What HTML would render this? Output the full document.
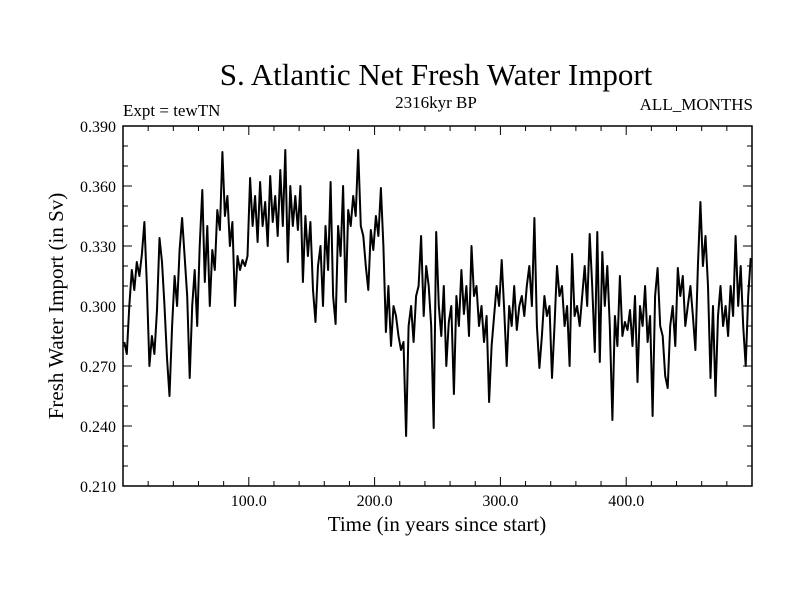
<!DOCTYPE html>
<html><head><meta charset="utf-8"><style>
body{margin:0;background:#fff}
svg text{font-family:"Liberation Serif",serif;fill:#000}
</style></head><body>
<svg id="chart" width="800" height="600" xmlns="http://www.w3.org/2000/svg">
<rect width="800" height="600" fill="#fff"/>
<text x="436" y="85" font-size="31" text-anchor="middle">S. Atlantic Net Fresh Water Import</text>
<text x="123" y="116" font-size="17">Expt = tewTN</text>
<text x="436" y="108" font-size="17" text-anchor="middle">2316kyr BP</text>
<text x="753" y="110" font-size="17" text-anchor="end">ALL_MONTHS</text>
<text x="437" y="531" font-size="21" text-anchor="middle">Time (in years since start)</text>
<text x="0" y="0" font-size="21" text-anchor="middle" transform="translate(63,306) rotate(-90)">Fresh Water Import (in Sv)</text>
<g id="axes"></g>
<path id="series" fill="none" stroke="#000" stroke-width="2" stroke-linejoin="round"/>
<rect x="123" y="126" width="629" height="360" fill="none" stroke="#000" stroke-width="1.5"/>
</svg>
<script>
const years = [];
for (let i = 0; i < 250; i++) years.push(1 + 2 * i);
const values = [
0.282,0.276,0.300,0.318,0.308,0.322,0.315,0.326,0.342,0.310,
0.270,0.285,0.276,0.298,0.334,0.322,0.300,0.274,0.255,0.290,
0.315,0.300,0.328,0.344,0.325,0.305,0.264,0.300,0.318,0.290,
0.330,0.358,0.312,0.340,0.300,0.328,0.318,0.348,0.338,0.377,
0.345,0.355,0.330,0.342,0.300,0.325,0.318,0.323,0.320,0.325,
0.364,0.340,0.355,0.332,0.362,0.340,0.352,0.330,0.365,0.342,
0.355,0.335,0.368,0.340,0.378,0.322,0.360,0.340,0.355,0.338,
0.360,0.312,0.345,0.325,0.342,0.308,0.292,0.320,0.330,0.300,
0.340,0.318,0.362,0.305,0.291,0.340,0.325,0.360,0.302,0.348,
0.340,0.355,0.345,0.378,0.340,0.335,0.320,0.308,0.338,0.328,
0.345,0.335,0.359,0.330,0.287,0.310,0.280,0.300,0.295,0.285,
0.278,0.282,0.235,0.290,0.300,0.282,0.305,0.310,0.335,0.295,
0.320,0.310,0.290,0.239,0.337,0.300,0.285,0.310,0.270,0.292,
0.300,0.256,0.305,0.290,0.318,0.296,0.310,0.285,0.330,0.305,
0.310,0.290,0.300,0.282,0.295,0.252,0.280,0.295,0.310,0.300,
0.323,0.298,0.270,0.300,0.290,0.310,0.288,0.300,0.305,0.295,
0.310,0.320,0.300,0.344,0.290,0.269,0.285,0.305,0.295,0.300,
0.264,0.290,0.320,0.305,0.310,0.290,0.300,0.270,0.326,0.295,
0.300,0.290,0.305,0.320,0.300,0.336,0.310,0.277,0.337,0.272,
0.327,0.300,0.320,0.290,0.243,0.295,0.280,0.315,0.285,0.292,
0.288,0.298,0.280,0.305,0.262,0.300,0.290,0.310,0.282,0.295,
0.245,0.305,0.319,0.290,0.285,0.265,0.259,0.290,0.300,0.280,
0.319,0.305,0.315,0.290,0.300,0.310,0.295,0.278,0.320,0.352,
0.320,0.335,0.310,0.264,0.300,0.255,0.295,0.310,0.290,0.300,
0.285,0.310,0.295,0.335,0.300,0.320,0.290,0.270,0.305,0.324
];
const xTickValues = [100, 200, 300, 400];
const xTickLabels = ["100.0", "200.0", "300.0", "400.0"];
const yTickValues = [0.21, 0.24, 0.27, 0.30, 0.33, 0.36, 0.39];
const yTickLabels = ["0.210", "0.240", "0.270", "0.300", "0.330", "0.360", "0.390"];

const L = 123, R = 752, T = 126, B = 486;
const X0 = 0, X1 = 500, Y0 = 0.21, Y1 = 0.39;
function xs(v){ return L + (v - X0) / (X1 - X0) * (R - L); }
function ys(v){ return B - (v - Y0) / (Y1 - Y0) * (B - T); }

const NS = "http://www.w3.org/2000/svg";
const axes = document.getElementById("axes");
function line(x1,y1,x2,y2,name){
  const l = document.createElementNS(NS, "line");
  l.setAttribute("x1", x1); l.setAttribute("y1", y1);
  l.setAttribute("x2", x2); l.setAttribute("y2", y2);
  l.setAttribute("stroke", "#000"); l.setAttribute("stroke-width", "1");
  
  
  axes.appendChild(l);
}
function text(x,y,s,anchor,name){
  const t = document.createElementNS(NS, "text");
  t.setAttribute("x", x); t.setAttribute("y", y);
  t.setAttribute("font-size", "16");
  t.setAttribute("text-anchor", anchor);
  t.textContent = s;
  
  
  axes.appendChild(t);
}
// minor ticks
for (let v = 20; v < 500; v += 20) {
  const x = xs(v), len = (v % 100 === 0) ? 9 : 5;
  line(x, B, x, B - len, "x-tick");
  line(x, T, x, T + len, "x-tick-top");
}
for (let k = 22; k < 39; k++) {
  const v = k / 100, y = ys(v), len = (k % 3 === 0) ? 9 : 5;
  line(L, y, L + len, y, "y-tick");
  line(R, y, R - len, y, "y-tick-right");
}
xTickValues.forEach((v, i) => text(xs(v), B + 20, xTickLabels[i], "middle", "x-tick-label"));
yTickValues.forEach((v, i) => text(L - 7, ys(v) + 6, yTickLabels[i], "end", "y-tick-label"));

let d = "";
values.forEach((v, i) => { d += (i ? "L" : "M") + xs(years[i]).toFixed(1) + "," + ys(v).toFixed(1); });
document.getElementById("series").setAttribute("d", d);
</script>
</body></html>
